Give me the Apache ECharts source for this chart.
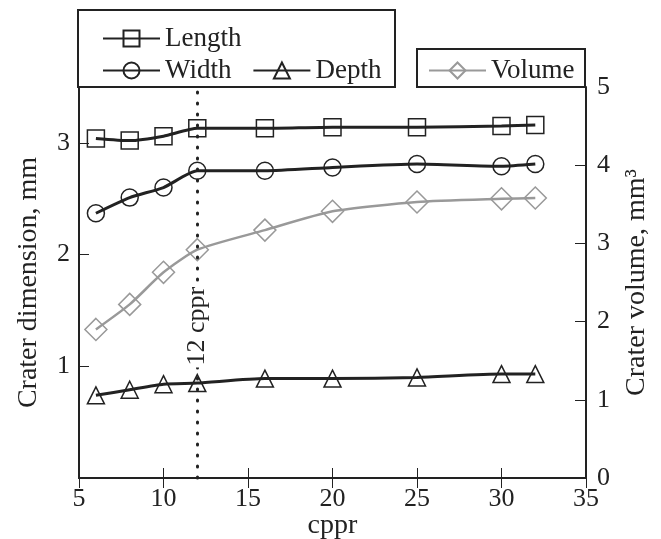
<!DOCTYPE html>
<html>
<head>
<meta charset="utf-8">
<script src="https://cdn.jsdelivr.net/npm/echarts@6/dist/echarts.min.js"></script>
<style>
  html, body { margin: 0; padding: 0; background: #fff; }
  #chart { width: 661px; height: 539px; }
</style>
</head>
<body>
<div id="chart"></div>
<script>
  // values
  var cppr = [6, 8, 10, 12, 16, 20, 25, 30, 32];
  var lengthMm = [3.04, 3.02, 3.06, 3.13, 3.13, 3.14, 3.14, 3.15, 3.16];
  var widthMm = [2.37, 2.51, 2.60, 2.75, 2.75, 2.78, 2.81, 2.79, 2.81];
  var depthMm = [0.74, 0.79, 0.84, 0.85, 0.89, 0.89, 0.90, 0.93, 0.93];
  var volumeMm3 = [1.90, 2.22, 2.63, 2.92, 3.17, 3.41, 3.53, 3.57, 3.58];
  var markCppr = 12;
  var markLabelAt = 1.36;

  var dark = '#222';
  var grey = '#999';
  var serif = 'Liberation Serif';

  function pairs(ys) {
    return cppr.map(function (x, i) { return [x, ys[i]]; });
  }

  function lineSeries(name, ys, symbol, size, color, yIndex) {
    return {
      name: name,
      type: 'line',
      xAxisIndex: 0,
      yAxisIndex: yIndex,
      data: pairs(ys),
      symbol: symbol,
      symbolSize: size,
      smooth: 0.2,
      showAllSymbol: true,
      lineStyle: { color: color, width: color === dark ? 3 : 2.5 },
      itemStyle: { color: 'rgba(0,0,0,0)', borderColor: color, borderWidth: 1.5 },
      emphasis: { disabled: true }
    };
  }

  var chart = echarts.init(document.getElementById('chart'));

  var lengthSeries = lineSeries('Length', lengthMm, 'rect', 17, dark, 0);
  lengthSeries.markLine = {
    silent: true,
    symbol: ['none', 'none'],
    label: { show: false },
    lineStyle: { color: dark, type: [1, 10], width: 3, cap: 'round' },
    data: [{ xAxis: markCppr }]
  };
  lengthSeries.markPoint = {
    silent: true,
    z: 6,
    symbol: 'circle',
    symbolSize: 1,
    itemStyle: { color: 'rgba(0,0,0,0)' },
    label: {
      show: true,
      position: 'inside',
      rotate: 90,
      formatter: markCppr + ' cppr',
      fontFamily: serif,
      fontSize: 26,
      color: dark,
      backgroundColor: '#fff',
      padding: [0, 2]
    },
    data: [{ coord: [markCppr, markLabelAt] }]
  };

  var legendText = { fontFamily: serif, fontSize: 27, color: dark };

  chart.setOption({
    animation: false,
    graphic: [
      { type: 'rect', z: 1, shape: { x: 78, y: 10, width: 317, height: 77 },
        style: { fill: '#fff', stroke: dark, lineWidth: 2 } },
      { type: 'rect', z: 1, shape: { x: 417, y: 49, width: 168, height: 38 },
        style: { fill: '#fff', stroke: dark, lineWidth: 2 } }
    ],
    legend: [
      { data: ['Length'], left: 102, top: 25, padding: 0, itemWidth: 57, itemHeight: 20,
        itemGap: 21, textStyle: legendText, z: 5 },
      { data: ['Width', 'Depth'], left: 102, top: 57, padding: 0, itemWidth: 57, itemHeight: 20,
        itemGap: 21, textStyle: legendText, z: 5 },
      { data: ['Volume'], left: 428, top: 57, padding: 0, itemWidth: 57, itemHeight: 20,
        textStyle: legendText, z: 5 }
    ],
    grid: { left: 79, right: 75, top: 87, bottom: 61, outerBoundsMode: 'none', containLabel: false },
    xAxis: [
      {
        type: 'value', position: 'bottom', min: 5, max: 35, interval: 5,
        name: 'cppr', nameLocation: 'middle', nameGap: 34, nameMoveOverlap: false,
        nameTextStyle: { fontFamily: serif, fontSize: 28, color: dark },
        axisLine: { lineStyle: { color: dark, width: 2 } },
        axisTick: { inside: true, length: 10, lineStyle: { color: dark, width: 1 } },
        axisLabel: { fontFamily: serif, fontSize: 26, color: dark, margin: 8 },
        splitLine: { show: false }
      },
      {
        type: 'value', position: 'top', min: 5, max: 35, interval: 5,
        axisLine: { lineStyle: { color: dark, width: 2 } },
        axisTick: { inside: true, length: 10, lineStyle: { color: dark, width: 1 } },
        axisLabel: { show: false },
        splitLine: { show: false }
      }
    ],
    yAxis: [
      {
        type: 'value', position: 'left', min: 0, max: 3.5, interval: 1,
        name: 'Crater dimension, mm', nameLocation: 'middle', nameGap: 36, nameRotate: 90,
        nameMoveOverlap: false,
        nameTextStyle: { fontFamily: serif, fontSize: 28, color: dark },
        axisLine: { show: true, lineStyle: { color: dark, width: 2 } },
        axisTick: { show: true, inside: true, length: 10, lineStyle: { color: dark, width: 1 } },
        axisLabel: {
          fontFamily: serif, fontSize: 26, color: dark, margin: 9,
          formatter: function (v) { return (v > 0 && v % 1 === 0) ? String(v) : ''; }
        },
        splitLine: { show: false }
      },
      {
        type: 'value', position: 'right', min: 0, max: 5, interval: 1,
        name: 'Crater volume, mm³', nameLocation: 'middle', nameGap: 37, nameRotate: 90,
        nameMoveOverlap: false,
        nameTextStyle: { fontFamily: serif, fontSize: 28, color: dark },
        axisLine: { show: true, lineStyle: { color: dark, width: 2 } },
        axisTick: { show: true, inside: true, length: 11, lineStyle: { color: dark, width: 1 } },
        axisLabel: { fontFamily: serif, fontSize: 26, color: dark, margin: 11 },
        splitLine: { show: false }
      }
    ],
    series: [
      lengthSeries,
      lineSeries('Width', widthMm, 'circle', 17, dark, 0),
      lineSeries('Depth', depthMm, 'triangle', 17, dark, 0),
      lineSeries('Volume', volumeMm3, 'diamond', 22, grey, 1)
    ]
  });
</script>
</body>
</html>
